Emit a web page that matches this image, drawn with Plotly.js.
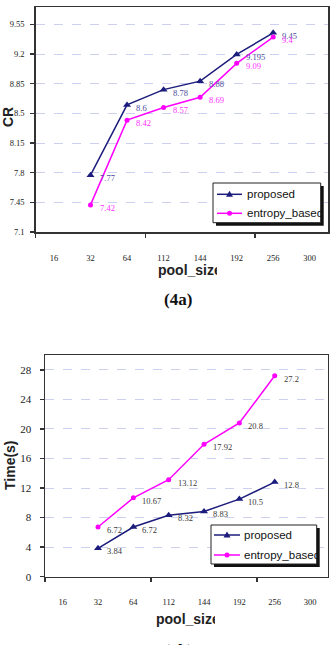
<!DOCTYPE html>
<html>
<head>
<meta charset="utf-8">
<script src="https://cdn.plot.ly/plotly-3.0.1.min.js"></script>
<style>
  html, body { margin: 0; padding: 0; background: #ffffff; }
  #chart { width: 331px; height: 645px; }
</style>
</head>
<body>
<div id="chart"></div>
<script>
// Pool sizes shown along both x axes, and the ones that carry measurements
const categories = ['16', '32', '64', '112', '144', '192', '256', '300'];
const poolSizes = ['32', '64', '112', '144', '192', '256'];
const seriesNames = ['proposed', 'entropy_based'];

// (4a) compression ratio
const crProposed = [7.77, 8.6, 8.78, 8.88, 9.195, 9.45];
const crEntropy = [7.42, 8.42, 8.57, 8.69, 9.09, 9.4];
const crTicks = [7.1, 7.45, 7.8, 8.15, 8.5, 8.85, 9.2, 9.55];
const crTickText = ['7.1', '7.45', '7.8', '8.15', '8.5', '8.85', '9.2', '9.55'];

// (4b) running time in seconds
const timeProposed = [3.84, 6.72, 8.32, 8.83, 10.5, 12.8];
const timeEntropy = [6.72, 10.67, 13.12, 17.92, 20.8, 27.2];
const timeTicks = [0, 4, 8, 12, 16, 20, 24, 28];

// ---- styling ----
const W = 331, H = 645;
const NAVY = '#1c1c7c';
const MAGENTA = '#ff00ff';
const AXIS = '#333333';
const GRID = '#cdd0ee';
const SERIF = 'Liberation Serif, Times New Roman, serif';
const SANS = 'Liberation Sans, Arial, sans-serif';

// pixel -> paper helpers for the decorations around the plots
const P = x => x / W;
const Q = y => 1 - y / H;

const xPos = poolSizes.map(s => categories.indexOf(s));
const catIdx = categories.map((c, i) => i);
const xRange = [-0.5, categories.length - 0.5];
const xTickMarks = [-0.5, 2.5, 5.5];
const xGridLines = [1, 2.5, 5.5, 7];

function series(y, name, xa, ya, color, symbol, size) {
  return {
    type: 'scatter', mode: 'lines+markers', name: name,
    x: xPos, y: y, xaxis: xa, yaxis: ya, showlegend: false,
    line: { color: color, width: 1.5 },
    marker: { color: color, symbol: symbol, size: size },
    hoverinfo: 'x+y'
  };
}

const traces = [
  series(crProposed, seriesNames[0], 'x', 'y', NAVY, 'triangle-up', 7),
  series(crEntropy, seriesNames[1], 'x', 'y', MAGENTA, 'circle', 5),
  series(timeProposed, seriesNames[0], 'x2', 'y2', NAVY, 'triangle-up', 7),
  series(timeEntropy, seriesNames[1], 'x2', 'y2', MAGENTA, 'circle', 5)
];

function catAxis(domain, anchor, standoff) {
  return {
    domain: domain, anchor: anchor, range: xRange,
    tickmode: 'array', tickvals: catIdx, ticktext: categories,
    ticks: '', ticklabelstandoff: standoff,
    tickfont: { family: SERIF, size: 8.5, color: '#222' },
    showgrid: false, zeroline: false,
    showline: true, linecolor: AXIS, linewidth: 1.5, mirror: true,
    minor: { tickmode: 'array', tickvals: xTickMarks, ticks: 'outside',
             ticklen: 4, tickwidth: 1.5, tickcolor: AXIS, showgrid: false },
    fixedrange: true
  };
}

function gridAxis(over, anchor) {
  return {
    overlaying: over, anchor: anchor, range: xRange,
    tickmode: 'array', tickvals: xGridLines, showticklabels: false, ticks: '',
    showgrid: true, gridcolor: GRID, gridwidth: 1, griddash: 'dash',
    zeroline: false, showline: false, fixedrange: true
  };
}

function valAxis(domain, anchor, range, tickvals, ticktext, fontSize, standoff) {
  const ax = {
    domain: domain, anchor: anchor, range: range,
    tickmode: 'array', tickvals: tickvals,
    ticks: 'outside', ticklen: 4, tickwidth: 1.5, tickcolor: AXIS,
    ticklabelstandoff: standoff,
    tickfont: { family: SERIF, size: fontSize, color: '#222' },
    showgrid: true, gridcolor: GRID, gridwidth: 1, griddash: 'dash',
    zeroline: false,
    showline: true, linecolor: AXIS, linewidth: 1.5, mirror: true,
    fixedrange: true
  };
  if (ticktext) ax.ticktext = ticktext;
  return ax;
}

// value labels next to every point
function valueLabels(values, xa, ya, color) {
  return values.map((v, i) => ({
    xref: xa, yref: ya, x: xPos[i], y: v,
    text: String(v), showarrow: false,
    xanchor: 'left', yanchor: 'middle', xshift: 8, yshift: -3,
    borderpad: 0,
    font: { family: SERIF, size: 8.5, color: color }
  }));
}

function paperText(text, x, y, font, extra) {
  return Object.assign({
    xref: 'paper', yref: 'paper', x: P(x), y: Q(y), text: text,
    showarrow: false, xanchor: 'center', yanchor: 'middle', borderpad: 0,
    font: font
  }, extra || {});
}

// boxed legend with a drop shadow
function legendBox(box, rows, textX, lineX, clipW) {
  const shapes = [
    { type: 'rect', xref: 'paper', yref: 'paper', layer: 'above',
      x0: P(box[0] + 3), x1: P(box[1] + 3), y0: Q(box[2] + 3), y1: Q(box[3] + 3),
      fillcolor: '#111111', line: { width: 0 } },
    { type: 'rect', xref: 'paper', yref: 'paper', layer: 'above',
      x0: P(box[0]), x1: P(box[1]), y0: Q(box[2]), y1: Q(box[3]),
      fillcolor: '#ffffff', line: { color: '#222222', width: 1 } }
  ];
  const notes = [];
  const colors = [NAVY, MAGENTA];
  rows.forEach((ry, k) => {
    shapes.push({ type: 'line', xref: 'paper', yref: 'paper', layer: 'above',
      x0: P(lineX[0]), x1: P(lineX[1]), y0: Q(ry), y1: Q(ry),
      line: { color: colors[k], width: 1.5 } });
    const cx = (lineX[0] + lineX[1]) / 2;
    if (k === 0) {
      shapes.push({ type: 'path', xref: 'paper', yref: 'paper', layer: 'above',
        path: 'M ' + P(cx - 3.5) + ',' + Q(ry + 2.5) + ' L ' + P(cx + 3.5) + ',' + Q(ry + 2.5) +
              ' L ' + P(cx) + ',' + Q(ry - 3.5) + ' Z',
        fillcolor: colors[k], line: { width: 0 } });
    } else {
      shapes.push({ type: 'circle', xref: 'paper', yref: 'paper', layer: 'above',
        x0: P(cx - 2.5), x1: P(cx + 2.5), y0: Q(ry - 2.5), y1: Q(ry + 2.5),
        fillcolor: colors[k], line: { width: 0 } });
    }
    notes.push(paperText(seriesNames[k], textX, ry,
      { family: SANS, size: 11.5, color: '#111' },
      { xanchor: 'left', align: 'left', width: clipW }));
  });
  return { shapes, notes };
}

const leg1 = legendBox([213, 320.7, 183, 222.7], [194.3, 213.3], 245.5, [217, 242], 74);
const leg2 = legendBox([211, 316.7, 525, 564], [535, 555], 243, [214, 240], 75);

const titleFont = { family: SANS, size: 14, color: '#222', weight: 700 };
const captionFont = { family: SERIF, size: 17, color: '#111', weight: 700 };

const annotations = [].concat(
  valueLabels(crProposed, 'x', 'y', '#4c4c9e'),
  valueLabels(crEntropy, 'x', 'y', '#ff30ff'),
  valueLabels(timeProposed, 'x2', 'y2', '#3a3a3a'),
  valueLabels(timeEntropy, 'x2', 'y2', '#3a3a3a'),
  leg1.notes, leg2.notes,
  [
    paperText('CR', 8, 117, titleFont, { textangle: -90 }),
    paperText('pool_size', 157, 270.5, titleFont, { xanchor: 'left', align: 'left', width: 59 }),
    paperText('(4a)', 178, 299.5, captionFont),
    paperText('Time(s)', 10, 465, titleFont, { textangle: -90 }),
    paperText('pool_size', 155, 619, titleFont, { xanchor: 'left', align: 'left', width: 59 }),
    paperText('(4b)', 178, 650, captionFont)
  ]
);

const layout = {
  width: W, height: H,
  margin: { l: 0, r: 0, t: 0, b: 0 },
  paper_bgcolor: '#ffffff', plot_bgcolor: '#ffffff',
  showlegend: false,
  xaxis: catAxis([P(35.7), P(328)], 'y', 17),
  yaxis: valAxis([Q(232), Q(7)], 'x', [7.1, 9.755], crTicks, crTickText, 8.5, 4),
  xaxis2: catAxis([P(45), P(327.7)], 'y2', 17),
  yaxis2: valAxis([Q(576.7), Q(355)], 'x2', [0, 30], timeTicks, null, 11, 6),
  xaxis3: gridAxis('x', 'y'),
  xaxis4: gridAxis('x2', 'y2'),
  shapes: leg1.shapes.concat(leg2.shapes),
  annotations: annotations
};

Plotly.newPlot('chart', traces, layout, { staticPlot: true, displayModeBar: false });
</script>
</body>
</html>
